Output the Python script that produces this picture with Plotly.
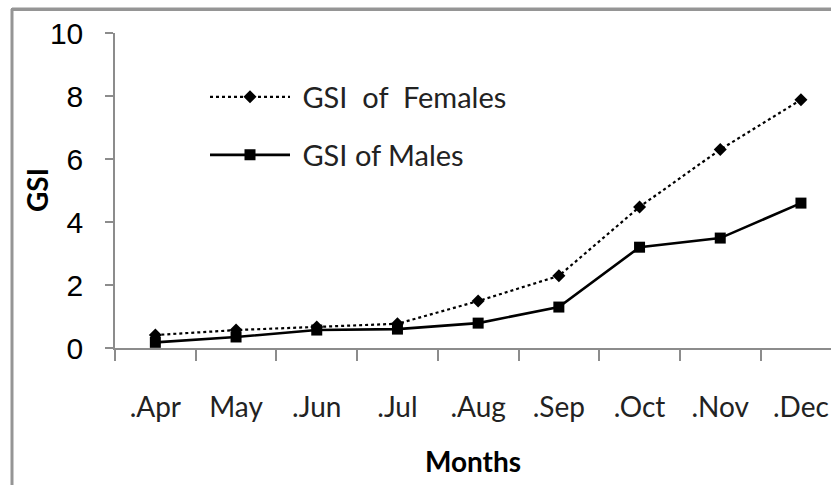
import plotly.graph_objects as go

months = [".Apr", "May", ".Jun", ".Jul", ".Aug", ".Sep", ".Oct", ".Nov", ".Dec"]
gsi_females = [0.41, 0.57, 0.67, 0.77, 1.49, 2.29, 4.48, 6.3, 7.88]
gsi_males = [0.18, 0.35, 0.57, 0.6, 0.79, 1.3, 3.2, 3.49, 4.6]
y_ticks = [0, 2, 4, 6, 8, 10]

W, H = 831, 485
ML, MR, MT, MB = 115, 0, 33, 137
pw = W - ML - MR
ph = H - MT - MB
cat_px = 80.7  # pixel width of one category in the reference
x_max = -0.5 + pw / cat_px

def px_x(sx):
    return (sx - ML) / pw

def px_y(sy):
    return 1 - (sy - MT) / ph

fig = go.Figure()
fig.add_trace(go.Scatter(
    x=months, y=gsi_females, mode="lines+markers", name=" GSI  of  Females",
    line=dict(color="black", width=2.2, dash="dot"),
    marker=dict(symbol="diamond", size=10, color="black"),
    legend="legend",
))
fig.add_trace(go.Scatter(
    x=months, y=gsi_males, mode="lines+markers", name=" GSI of Males",
    line=dict(color="black", width=2.6),
    marker=dict(symbol="square", size=11, color="black"),
    legend="legend2",
))

axis_grey = "#8c8c8c"
border_grey = "#959595"
leg_font = dict(family="Lato", size=29, color="#222")
fig.update_layout(
    width=W, height=H,
    margin=dict(l=ML, r=MR, t=MT, b=MB),
    paper_bgcolor="white", plot_bgcolor="white",
    showlegend=True,
    legend=dict(x=px_x(205), y=px_y(97), xanchor="left", yanchor="middle",
                font=leg_font, bgcolor="rgba(0,0,0,0)", itemwidth=80),
    legend2=dict(x=px_x(205), y=px_y(155), xanchor="left", yanchor="middle",
                 font=leg_font, bgcolor="rgba(0,0,0,0)", itemwidth=80),
    xaxis=dict(
        type="category", categoryorder="array", categoryarray=months,
        range=[-0.5, x_max], tickson="boundaries", ticks="outside", ticklen=11,
        tickcolor=axis_grey, tickwidth=1.5, showline=True, linecolor=axis_grey, linewidth=1.5,
        showgrid=False, zeroline=False, automargin=False,
        tickfont=dict(family="Lato", size=28, color="#222"), ticklabelstandoff=34,
        title=dict(text="<b>Months</b>", font=dict(family="Lato", size=28, color="black"), standoff=30),
    ),
    yaxis=dict(
        range=[0, 10], tickvals=y_ticks, ticks="outside", ticklen=8,
        tickcolor=axis_grey, tickwidth=1.5, showline=True, linecolor=axis_grey, linewidth=1.5,
        showgrid=False, zeroline=False, automargin=False,
        tickfont=dict(family="Liberation Sans", size=30, color="black"), ticklabelstandoff=16,
    ),
    annotations=[dict(text="<b>GSI</b>", xref="paper", yref="paper", x=px_x(37), y=px_y(190),
                      xanchor="center", yanchor="middle", textangle=-90, showarrow=False,
                      font=dict(family="Lato", size=28, color="black"))],
    shapes=[
        dict(type="line", xref="paper", yref="paper",
             x0=px_x(12), x1=px_x(12), y0=px_y(9), y1=px_y(H + 5),
             line=dict(color=border_grey, width=3), layer="above"),
        dict(type="line", xref="paper", yref="paper",
             x0=px_x(12), x1=px_x(W + 5), y0=px_y(9), y1=px_y(9),
             line=dict(color=border_grey, width=3), layer="above"),
    ],
)

post = (
    "document.body.style.margin='0';document.body.style.overflow='hidden';"
    "var b=document.createElement('div');"
    "b.style.cssText='position:absolute;left:11px;top:8px;width:900px;height:0;"
    "border-top:3px solid " + border_grey + ";pointer-events:none;z-index:10;';"
    "document.body.appendChild(b);"
)
fig.write_html("out.html", config={"displayModeBar": False}, post_script=post)
